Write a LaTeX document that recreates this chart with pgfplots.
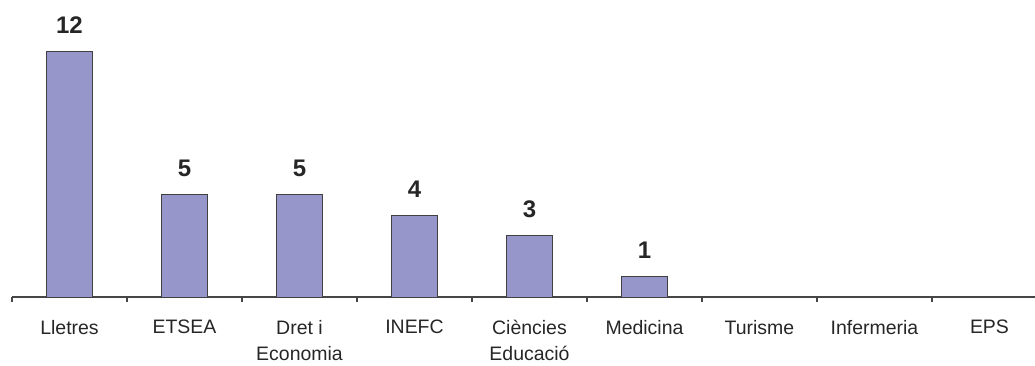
\documentclass[border=0pt]{standalone}
\usepackage{pgfplots}
\pgfplotsset{compat=1.18}
\usetikzlibrary{calc}
\usepackage{fontspec}
\setmainfont{Liberation Sans}
\definecolor{barfill}{RGB}{150,150,202}
\definecolor{axisgray}{RGB}{70,70,70}
\begin{document}
\begin{tikzpicture}
\begin{axis}[
  scale only axis,
  width=767.25pt, height=222.75pt,
  xmin=-0.5, xmax=8.396,
  ymin=0, ymax=14.49,
  axis x line=bottom,
  axis y line=none,
  x axis line style={-, axisgray, line width=0.8pt},
  xtick={0,...,8},
  xticklabels={Lletres,ETSEA,{Dret i\\Economia},INEFC,{Ciències\\Educació},Medicina,Turisme,Infermeria,EPS},
  major tick length=0pt,
  minor xtick={-0.5,0.5,1.5,2.5,3.5,4.5,5.5,6.5,7.5},
  minor tick length=4pt,
  tick align=outside,
  tick style={axisgray, line width=0.8pt},
  xticklabel style={align=center, font=\fontsize{14.6}{19.5}\selectfont, text=black!85, yshift=-14pt},
  ybar, bar width=34.5pt,
  nodes near coords={\pgfmathprintnumber[assume math mode=true]{\pgfplotspointmeta}},
  every node near coord/.append style={font=\fontsize{18}{20}\selectfont\bfseries, text=black!85, anchor=base, yshift=13.5pt},
  clip=false,
]
\addplot[fill=barfill, draw=black!75, line width=0.6pt] coordinates {(0,12) (1,5) (2,5) (3,4) (4,3) (5,1)};
\coordinate (o) at (rel axis cs:0,0);
\end{axis}
\pgfresetboundingbox
\path[use as bounding box] ($(o)+(-9pt,-51pt)$) rectangle ($(o)+(767.25pt,222.75pt)$);
\end{tikzpicture}
\end{document}
